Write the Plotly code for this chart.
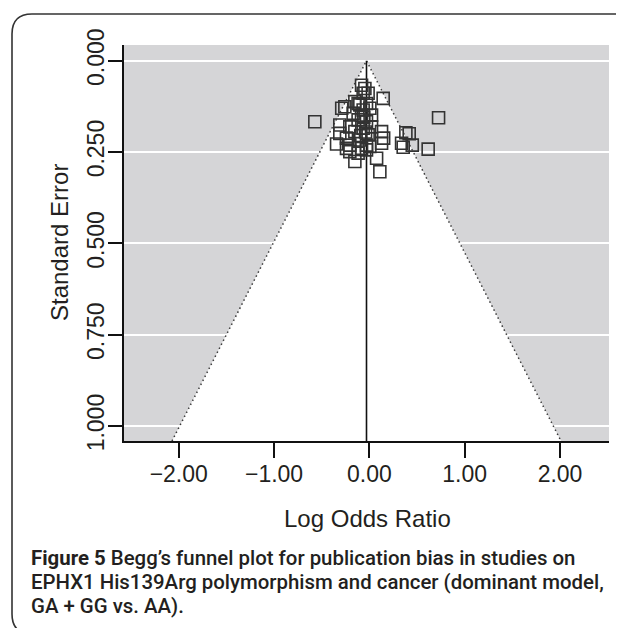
import plotly.graph_objects as go

# Study estimates (log odds ratio, standard error)
log_or = [-0.082, -0.047, -0.065, -0.013, 0.145, -0.152, -0.290, -0.257, -0.118, -0.030,
          -0.065, 0.005, -0.170, -0.082, 0.023, -0.572, 0.726, -0.118, -0.030, -0.310,
          -0.205, -0.065, 0.023, -0.310, -0.152, -0.013, -0.240, -0.100, 0.128, 0.150,
          -0.344, -0.205, -0.030, -0.240, -0.205, -0.152, -0.082, -0.030, 0.076, 0.110,
          0.128, -0.118, 0.005, 0.383, 0.418, 0.338, 0.355, 0.450, 0.617, -0.100,
          -0.058, -0.040, -0.090]
std_err = [0.067, 0.076, 0.089, 0.089, 0.103, 0.112, 0.130, 0.126, 0.117, 0.117,
           0.135, 0.130, 0.144, 0.149, 0.149, 0.167, 0.156, 0.162, 0.167, 0.176,
           0.181, 0.185, 0.181, 0.199, 0.194, 0.203, 0.212, 0.217, 0.194, 0.212,
           0.228, 0.231, 0.231, 0.240, 0.249, 0.276, 0.240, 0.244, 0.267, 0.304,
           0.226, 0.253, 0.235, 0.197, 0.200, 0.226, 0.237, 0.231, 0.242, 0.121,
           0.155, 0.195, 0.205]

pooled = -0.03
x_ticks = [-2.0, -1.0, 0.0, 1.0, 2.0]
x_tick_text = ["\u22122.00", "\u22121.00", "0.00", "1.00", "2.00"]
y_ticks = [0.0, 0.25, 0.5, 0.75, 1.0]
y_tick_text = ["0.000", "0.250", "0.500", "0.750", "1.000"]
x_range = [-2.574, 2.514]
y_range = [1.041, -0.043]

se_max = y_range[0]
funnel_x = [pooled - 1.96 * se_max, pooled, pooled + 1.96 * se_max]
funnel_y = [se_max, 0.0, se_max]

# the page places the figure 8 px from the top-left corner of the window
OFF = 8
W, H = 616, 620
ML, MT = 124 - OFF, 45 - OFF
MR = W - (609 - OFF)
MB = H - (441 - OFF)
PW, PH = W - ML - MR, H - MT - MB


def px_x(p):
    return (p - OFF - ML) / PW


def px_y(p):
    return (H - MB - (p - OFF)) / PH


fig = go.Figure()

fig.add_trace(go.Scatter(x=funnel_x, y=funnel_y, mode="lines", fill="toself",
                         fillcolor="white", line=dict(color="rgba(0,0,0,0)", width=0),
                         hoverinfo="skip", showlegend=False))
fig.add_trace(go.Scatter(x=funnel_x, y=funnel_y, mode="lines",
                         line=dict(color="#3a3a3a", width=1.5, dash="1.5px,3px"),
                         hoverinfo="skip", showlegend=False))
fig.add_trace(go.Scatter(x=[pooled, pooled], y=[0.0, se_max], mode="lines",
                         line=dict(color="#111111", width=1.6),
                         hoverinfo="skip", showlegend=False))
fig.add_trace(go.Scatter(x=log_or, y=std_err, mode="markers",
                         marker=dict(symbol="square-open", size=12,
                                     line=dict(color="#333333", width=1.6),
                                     color="#333333"),
                         showlegend=False))

tick_font = dict(family="Liberation Sans, Arial, sans-serif", size=23, color="#231f20")

fig.update_xaxes(range=x_range, tickvals=x_ticks, ticktext=x_tick_text,
                 ticks="outside", ticklen=15, tickwidth=1.5, tickcolor="#111111",
                 showline=True, linecolor="#111111", linewidth=1.5,
                 showgrid=False, zeroline=False, tickfont=tick_font,
                 ticklabelstandoff=-3)
fig.update_yaxes(range=y_range, tickvals=y_ticks, ticktext=y_tick_text,
                 ticks="outside", ticklen=14, tickwidth=1.5, tickcolor="#111111",
                 showline=True, linecolor="#111111", linewidth=1.5,
                 showgrid=True, gridcolor="white", gridwidth=2,
                 zeroline=False, tickfont=tick_font, tickangle=-90,
                 ticklabelstandoff=-5)

title_font = dict(family="Liberation Sans, Arial, sans-serif", size=24, color="#231f20")
cap_font = dict(family="Roboto, Lato, sans-serif", size=20.4, color="#231f20", weight=500)

annotations = [
    dict(text="Log Odds Ratio", x=px_x(367), y=px_y(518), xref="paper", yref="paper",
         showarrow=False, xanchor="center", yanchor="middle", font=title_font),
    dict(text="Standard Error", x=px_x(59), y=px_y(243), xref="paper", yref="paper",
         showarrow=False, xanchor="center", yanchor="middle", textangle=-90, font=title_font),
    dict(text="<b>Figure 5</b> Begg\u2019s funnel plot for publication bias in studies on",
         x=px_x(30), y=px_y(558), xref="paper", yref="paper", showarrow=False,
         xanchor="left", yanchor="middle", font=cap_font, borderpad=0),
    dict(text="EPHX1 His139Arg polymorphism and cancer (dominant model,",
         x=px_x(30), y=px_y(582), xref="paper", yref="paper", showarrow=False,
         xanchor="left", yanchor="middle", font=cap_font, borderpad=0),
    dict(text="GA + GG vs. AA).",
         x=px_x(30), y=px_y(606), xref="paper", yref="paper", showarrow=False,
         xanchor="left", yanchor="middle", font=cap_font, borderpad=0),
]

# rounded frame around the figure (page pixel coordinates)
L, T, B, R, rad = 12, 14, 634, 640, 20
x0, x1 = px_x(L), px_x(R)
y0, y1 = px_y(T), px_y(B)
rx, ry = rad / PW, rad / PH
frame_path = (f"M {x1},{y0} L {x0 + rx},{y0} Q {x0},{y0} {x0},{y0 - ry} "
              f"L {x0},{y1 + ry} Q {x0},{y1} {x0 + rx},{y1} L {x1},{y1}")

fig.update_layout(
    width=W, height=H,
    margin=dict(l=ML, r=MR, t=MT, b=MB, pad=0),
    paper_bgcolor="white", plot_bgcolor="#d5d5d7",
    annotations=annotations,
    shapes=[dict(type="path", path=frame_path, xref="paper", yref="paper",
                 line=dict(color="#333333", width=1.6), layer="above")],
    showlegend=False,
)

fig.write_html("out.html")
